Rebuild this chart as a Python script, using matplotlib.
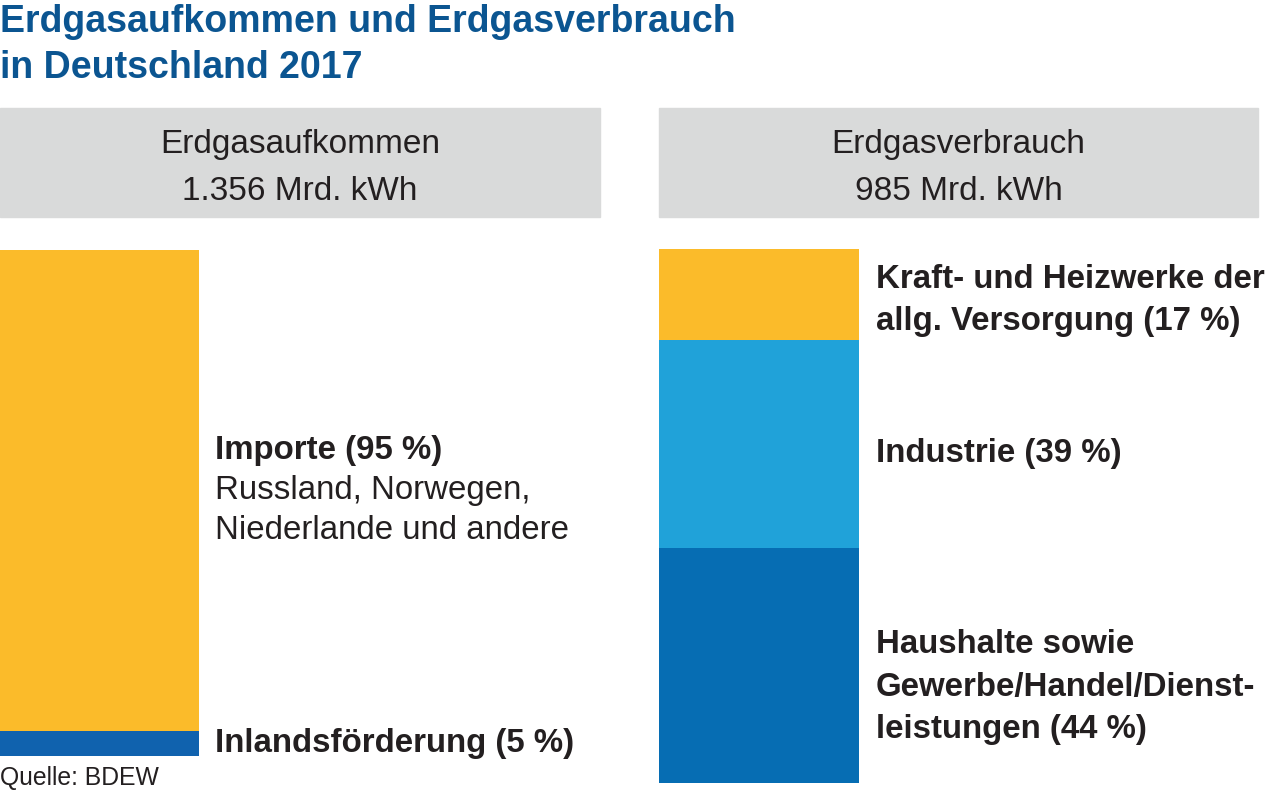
from matplotlib import pyplot as plt
from matplotlib.patches import Rectangle
from matplotlib.transforms import blended_transform_factory

plt.rcParams['font.family'] = ['Liberation Sans', 'DejaVu Sans']

# data
aufkommen_labels = ["Inlandsförderung (5 %)",
                    "Importe (95 %)"]
aufkommen_shares = [5, 95]
aufkommen_total = "1.356 Mrd. kWh"

verbrauch_labels = ["Haushalte sowie\nGewerbe/Handel/Dienst-\nleistungen (44 %)",
                    "Industrie (39 %)",
                    "Kraft- und Heizwerke der\nallg. Versorgung (17 %)"]
verbrauch_shares = [44, 39, 17]
verbrauch_total = "985 Mrd. kWh"

W, H = 1276, 794
fig = plt.figure(figsize=(W/100, H/100), dpi=100)

def fx(px):
    return px / W

def fy(py):
    return 1 - py / H

title_col = '#0b5591'
text_col = '#231f20'
lab_size = 23.8

# title
fig.text(fx(0), fy(32), "Erdgasaufkommen und Erdgasverbrauch", fontsize=27,
         fontweight='bold', color=title_col, va='baseline', ha='left')
fig.text(fx(0), fy(78), "in Deutschland 2017", fontsize=27,
         fontweight='bold', color=title_col, va='baseline', ha='left')

# header boxes
for x0, x1, name, total in [(0, 600, "Erdgasaufkommen", aufkommen_total),
                            (659, 1258, "Erdgasverbrauch", verbrauch_total)]:
    fig.patches.append(Rectangle((fx(x0), fy(217)), fx(x1 - x0), (217 - 108) / H,
                                 transform=fig.transFigure, color='#d9dada', zorder=0))
    xc = fx((x0 + x1) / 2)
    fig.text(xc, fy(145), name, fontsize=24, color=text_col, ha='center', va='center')
    fig.text(xc, fy(192), total, fontsize=24, color=text_col, ha='center', va='center')

# left bar
axl = fig.add_axes([fx(0), fy(756), fx(199), (756 - 250) / H])
cols_l = ['#1062ae', '#fbbb2a']
bottom = 0
for v, c in zip(aufkommen_shares, cols_l):
    axl.bar(0, v, bottom=bottom, width=1, color=c, linewidth=0)
    bottom += v
axl.set_xlim(-0.5, 0.5)
axl.set_ylim(0, 100)
axl.axis('off')

# right bar
axr = fig.add_axes([fx(659), fy(783), fx(200), (783 - 249) / H])
cols_r = ['#066db3', '#20a2d9', '#fbbb2a']
bottom = 0
for v, c in zip(verbrauch_shares, cols_r):
    axr.bar(0, v, bottom=bottom, width=1, color=c, linewidth=0)
    bottom += v
axr.set_xlim(-0.5, 0.5)
axr.set_ylim(0, 100)
axr.axis('off')

# labels, left
trl = blended_transform_factory(axl.transAxes, axl.transData)
axl.text(1.08, aufkommen_shares[0] / 2, aufkommen_labels[0], transform=trl,
         fontsize=lab_size, fontweight='bold', color=text_col, va='center', ha='left')
mid = aufkommen_shares[0] + aufkommen_shares[1] / 2
axl.annotate(aufkommen_labels[1], xy=(1.08, mid), xycoords=trl,
             xytext=(0, 29), textcoords='offset points',
             fontsize=lab_size, fontweight='bold', color=text_col, va='center', ha='left')
axl.annotate("Russland, Norwegen,\nNiederlande und andere", xy=(1.08, mid), xycoords=trl,
             xytext=(0, -14.5), textcoords='offset points', linespacing=1.4,
             fontsize=lab_size, color=text_col, va='center', ha='left')

# labels, right
trr = blended_transform_factory(axr.transAxes, axr.transData)
offsets = [-15.5, -7, -4.5]
bottom = 0
for lab, v, off in zip(verbrauch_labels, verbrauch_shares, offsets):
    axr.annotate(lab, xy=(1.085, bottom + v / 2), xycoords=trr,
                 xytext=(0, off), textcoords='offset points', linespacing=1.47,
                 fontsize=lab_size, fontweight='bold', color=text_col, va='center', ha='left')
    bottom += v

fig.text(fx(0), fy(778), "Quelle: BDEW", fontsize=17.8, color=text_col,
         ha='left', va='center')

plt.savefig("out.png", dpi=100)
